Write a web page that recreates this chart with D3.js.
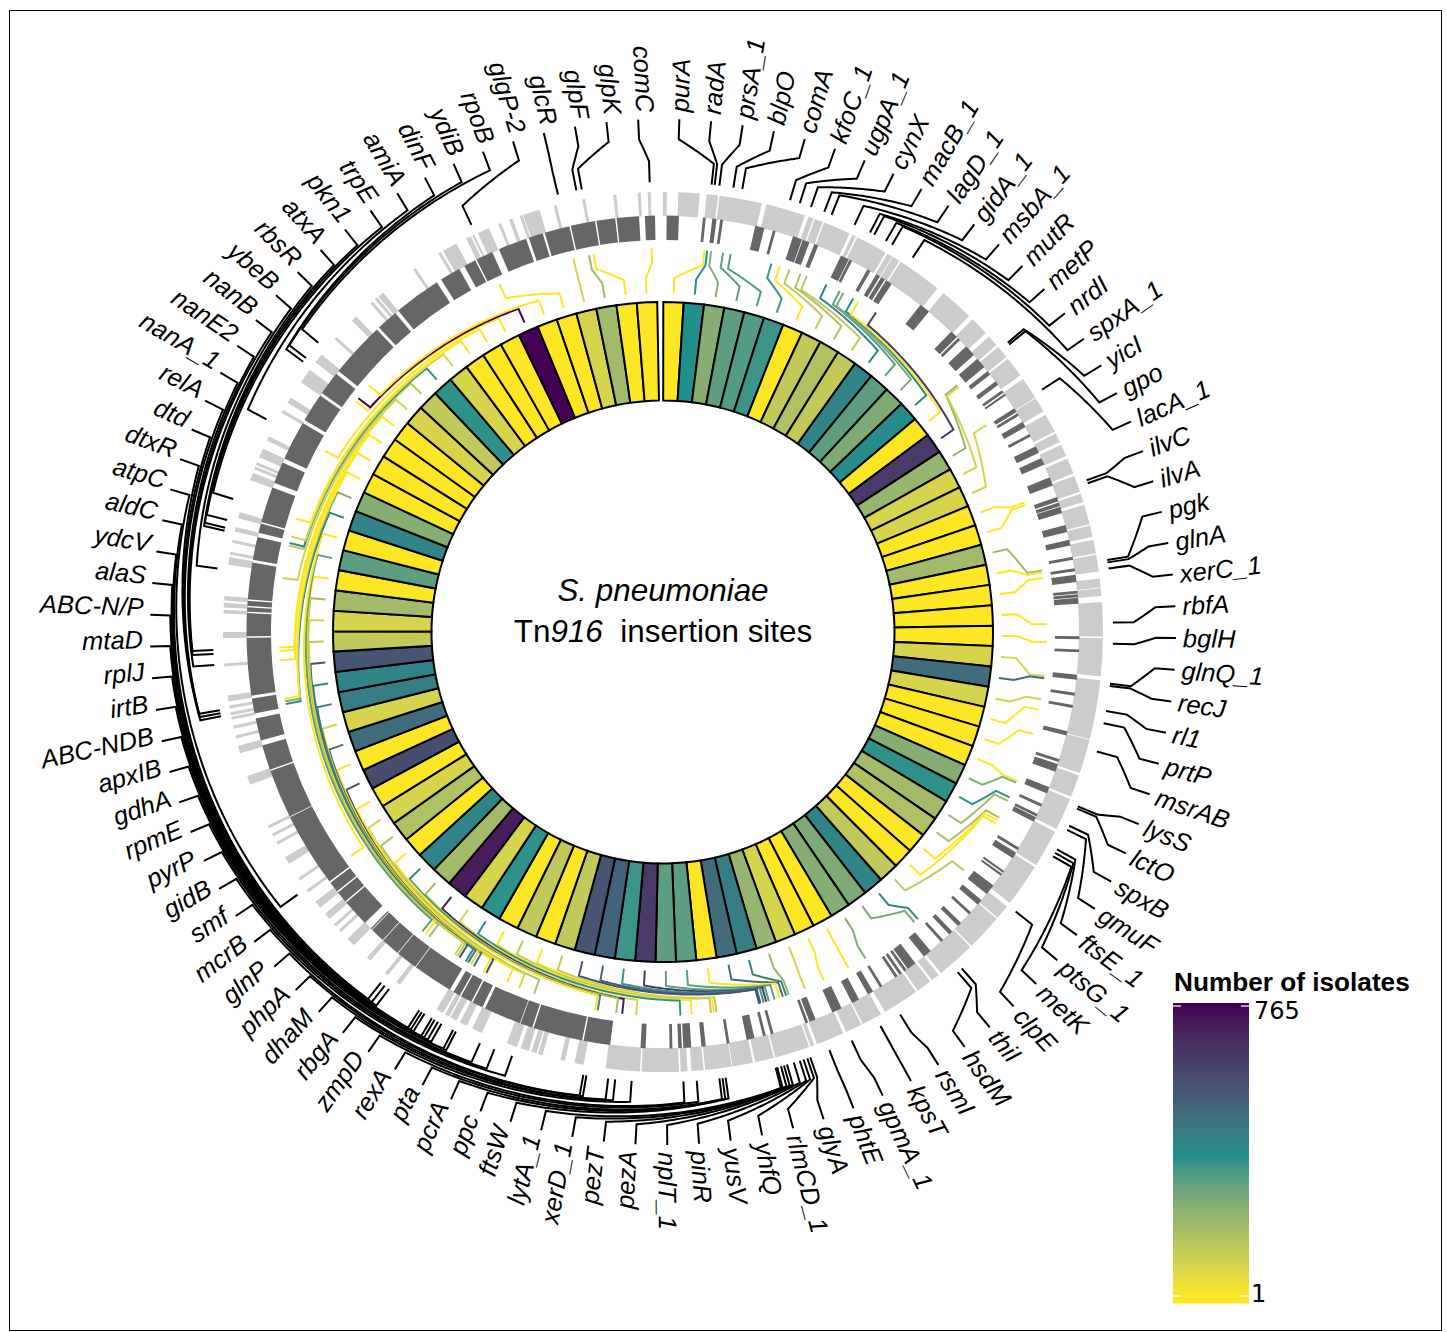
<!DOCTYPE html>
<html>
<head>
<meta charset="utf-8">
<script src="https://cdn.jsdelivr.net/npm/d3@7/dist/d3.min.js"></script>
<style>
    body { margin: 0; background: #fff; }
    text { font-family: "Liberation Sans", Arial, sans-serif; }
</style>
</head>
<body>
<div id="chart"></div>
<script>
const width = 1447;
const height = 1332;
const cx = 663;
const cy = 632;

// Insertion site genes, clockwise from the top
const geneNames = [
    "purA", "radA", "prsA_1", "blpO", "comA", "kfoC_1", "ugpA_1", "cynX", "macB_1", "lagD_1",
    "gidA_1", "msbA_1", "mutR", "metP", "nrdI", "spxA_1", "yicI", "gpo", "lacA_1", "ilvC",
    "ilvA", "pgk", "glnA", "xerC_1", "rbfA", "bglH", "glnQ_1", "recJ", "rl1", "prtP",
    "msrAB", "lysS", "lctO", "spxB", "gmuF", "ftsE_1", "ptsG_1", "metK", "clpE", "thiI",
    "hsdM", "rsmI", "kpsT", "gpmA_1", "phtE", "glyA", "rlmCD_1", "yhfQ", "yusV", "pinR",
    "nplT_1", "pezA", "pezT", "xerD_1", "lytA_1", "ftsW", "ppc", "pcrA", "pta", "rexA",
    "zmpD", "rbgA", "dhaM", "phpA", "glnP", "mcrB", "smf", "gidB", "pyrP", "rpmE",
    "gdhA", "apxIB", "ABC-NDB", "irtB", "rplJ", "mtaD", "ABC-N/P", "alaS", "ydcV", "aldC",
    "atpC", "dtxR", "dtd", "relA", "nanA_1", "nanE2", "nanB", "ybeB", "rbsR", "atxA",
    "pkn1", "trpE", "amiA", "dinF", "ydiB", "rpoB", "glgP-2", "glcR", "glpF", "glpK", "comC"
];

// Number of isolates for each gene
const isolates = [
    1, 24, 8, 14, 16, 20, 1, 3, 4, 3,
    33, 14, 9, 26, 1, 245, 6, 2, 2, 1,
    1, 5, 1, 1, 1, 1, 2, 63, 2, 1,
    1, 1, 8, 22, 5, 4, 1, 1, 3, 33,
    9, 8, 1, 1, 2, 6, 40, 63, 1, 14,
    14, 245, 20, 80, 118, 3, 1, 3, 1, 22,
    2, 490, 5, 33, 1, 4, 2, 1, 150, 1,
    63, 2, 40, 33, 118, 3, 2, 5, 1, 14,
    1, 33, 8, 1, 1, 1, 1, 2, 3, 22,
    2, 1, 1, 1, 765, 1, 1, 2, 5, 1, 1
];

// Gene location on the circular genome map (0-360 map units)
const genePos = [
    6.2, 6.6, 7.2, 9, 10.15, 16.4, 17.7, 19.2, 21, 22,
    25.2, 27.4, 28, 29.7, 30.6, 33.7, 50, 50.3, 57.4, 70.3,
    70.7, 80.8, 81.1, 81.9, 88.8, 91.5, 96.6, 96.9, 100.1, 101.7,
    105.4, 112.8, 113.1, 115.5, 116.1, 118.9, 119.4, 119.9, 128.4, 138.4,
    139.1, 148.2, 151.1, 155.2, 158.3, 160.9, 161.3, 161.8, 162.3, 163.1,
    164, 164.4, 164.8, 165.3, 165.5, 172, 172.4, 172.8, 175.7, 177.4,
    184, 186.1, 187, 189.8, 190.2, 199.6, 202, 204, 207.4, 207.8,
    209.5, 210, 210.5, 210.9, 212, 212.4, 212.8, 217.5, 218.2, 218.8,
    234.3, 259.2, 259.6, 260, 265.8, 267.2, 267.7, 278.1, 283, 283.4,
    284.4, 287.2, 298.2, 306.9, 307.5, 310, 334.8, 346.5, 348.9, 349.6, 358.3
];

// Annotated genes per strand, [start, end] in map units
const plusStrand = [
    [0, 0.5], [2, 4.8], [5.7, 7.2], [7.4, 13], [13.6, 18.8], [19.3, 20], [20.2, 21.3], [21.5, 25.1],
    [25.5, 26], [26.2, 30.4], [30.7, 31.4], [31.5, 32.5], [32.7, 38.6], [39.6, 44.1], [44.7, 47.2],
    [47.8, 49.3], [49.6, 51.3], [51.6, 54.3], [54.9, 57.8], [57.9, 59.9], [60.4, 62.9], [63.2, 64.4],
    [64.8, 66.4], [66.8, 68.9], [69.2, 71.4], [71.7, 72.8], [73.2, 75.8], [76, 77.5], [77.9, 79.7],
    [79.9, 82.1], [83, 84.2], [84.3, 85.3], [86.1, 90.6], [90.8, 95.8], [96.3, 104.1], [104.2, 108.7],
    [109, 112], [112.3, 116.6], [117, 122], [122.3, 128], [128.6, 130.5], [130.7, 135.5], [135.7, 140.8],
    [141.2, 142.3], [142.6, 144.6], [144.9, 149.7], [150.3, 153], [153.2, 155.4], [155.8, 159.5],
    [159.9, 160.4], [160.6, 165.2], [165.4, 167.9], [168.2, 170.9], [171, 174.5], [174.7, 176.3],
    [176.8, 177.7], [177.9, 182.8], [183, 187.5], [190.4, 191.6], [192.9, 193.5], [195.9, 196.5],
    [196.7, 197.4], [197.8, 198.9], [199.4, 200.8], [204.3, 205.7], [206.5, 207.5], [208, 208.9],
    [209.1, 209.7], [210, 211], [216.7, 217.3], [218.7, 219.2], [221.7, 222.3], [224.6, 225.8],
    [227, 227.4], [228, 228.4], [229.3, 230.2], [231.2, 232.2], [233.7, 234.1], [235.6, 236],
    [238.2, 239.2], [241.1, 241.5], [242.3, 242.7], [243.5, 243.9], [249.7, 250.9], [254, 255],
    [256, 256.4], [257.3, 257.7], [258.5, 258.9], [259.1, 259.5], [260, 260.4], [260.9, 261.7],
    [265.5, 265.9], [269.2, 270], [272.4, 272.9], [273.2, 273.8], [274.1, 274.7], [278.8, 279.8],
    [280.1, 280.5], [281.7, 282.1], [283.2, 283.8], [285, 285.8], [290.2, 291.2], [291.7, 292.1],
    [292.3, 292.7], [293.4, 294.6], [295.8, 296.4], [299.9, 300.3], [301.4, 302.2], [304.6, 306.6],
    [307.8, 309.1], [311.7, 312.1], [315, 315.8], [318.3, 318.7], [319.1, 319.5], [319.7, 320.5],
    [325.4, 325.8], [329.3, 329.7], [330, 332], [333.4, 334.1], [334.3, 334.6], [335.1, 336.7],
    [338, 338.4], [339.5, 340], [341, 341.4], [341.5, 343.7], [345.6, 346], [349.4, 349.8],
    [353.5, 353.9], [356.7, 357.1], [358, 358.4]
];

const minusStrand = [
    [0.5, 2.2], [5.5, 5.9], [6.8, 7.4], [7.9, 8.3], [12.8, 14.1], [15.3, 15.7], [18.2, 19.5], [19.6, 20.6],
    [21.3, 21.9], [25.3, 26.5], [26.6, 27], [29.4, 29.9], [30.8, 31.4], [31.6, 32.2], [32.4, 33.3],
    [38.2, 39.7], [43.8, 44.9], [45.1, 45.5], [46.7, 48.3], [49, 50.5], [51.2, 51.8], [53, 53.6],
    [54.5, 54.9], [55.1, 55.4], [57.5, 58.1], [58.3, 58.7], [59.7, 60.5], [61.6, 62], [63.5, 64.5],
    [65.3, 66.3], [68.2, 69.4], [71.1, 71.7], [71.9, 72.4], [72.5, 73.4], [75.1, 76.1], [77.2, 78],
    [79.6, 80], [81.2, 81.6], [82.1, 83.1], [84.3, 84.7], [84.8, 85.2], [85.3, 86.1], [90.6, 91],
    [92.4, 92.8], [95.9, 96.6], [98.4, 98.8], [100.1, 100.5], [103.8, 104.4], [107.8, 108.2],
    [108.5, 109.6], [111.9, 112.8], [114.4, 114.8], [115.9, 116.3], [116.4, 117.1], [121.2, 121.6],
    [122, 122.9], [125, 125.3], [125.5, 125.8], [127.5, 129], [130.1, 130.9], [132.3, 132.7],
    [134.3, 134.9], [136, 136.6], [137.7, 138.1], [140, 141.2], [142.7, 144], [144.2, 144.6],
    [145, 145.4], [145.7, 146.1], [148.2, 148.6], [149.7, 150.5], [151.9, 153], [154.6, 156],
    [158.5, 159.4], [159.6, 160], [164.6, 165], [165.7, 166.1], [167.3, 168.4], [170.8, 171.2],
    [174.1, 174.7], [176.1, 177.2], [177.4, 177.9], [178.7, 179.1], [182.4, 183.1], [187.3, 191],
    [191.2, 198.1], [198.3, 200], [200.1, 205.3], [205.7, 207.2], [207.4, 209], [209.2, 210.2],
    [210.8, 216.4], [216.5, 219.5], [219.6, 222.2], [222.3, 224.3], [224.4, 224.6], [225.7, 229.5],
    [229.7, 231.3], [231.5, 233], [233.2, 243.6], [243.7, 250.5], [250.7, 254.2], [254.9, 258],
    [258.7, 260.8], [261.2, 269.2], [269.4, 272.6], [272.8, 273.4], [273.6, 274.3], [274.5, 279.6],
    [280, 283.2], [283.8, 285.1], [285.3, 290.3], [291, 294], [294.6, 300.1], [300.6, 304.6],
    [305, 308.3], [308.8, 316.6], [317, 320], [320.5, 327.1], [327.8, 330.7], [331.5, 333.2],
    [333.4, 335.8], [336.8, 340.8], [341.2, 343.2], [343.5, 347], [347.2, 350.6], [350.8, 353.4],
    [353.6, 356.7], [357.5, 358.9]
];

const legendTicks = [1, 765];

// Ring radii, inside out
const heatInner = 231.5;
const heatOuter = 330;
const innerLinkRadii = [339, 354, 369, 384];
const minusRing = [392, 416.5];
const plusRing = [416, 440];
const outerLinkRadii = [450, 471, 493, 513];
const labelRadius = 520;
const flippedShift = 7.5; // left half labels sit clockwise of their line

const toRad = d3.scaleLinear().domain([0, 360]).range([0, 2 * Math.PI]);
const cellPos = d3.scaleBand().domain(geneNames).range([0.05, 359]);

// ggplot-like gradient: log values, Lab interpolation
const colorScale = d3.scaleLog()
    .domain([1, 24, 765])
    .range(["#FDE725", "#21908C", "#440154"])
    .interpolate(d3.interpolateLab);

const svg = d3.select("#chart").append("svg")
    .attr("width", width)
    .attr("height", height)
    .style("display", "block");

svg.append("rect")
    .attr("x", 9.5).attr("y", 10.5)
    .attr("width", 1432).attr("height", 1320)
    .attr("fill", "#fff")
    .attr("stroke", "#000")
    .attr("stroke-width", 1);

const g = svg.append("g").attr("transform", `translate(${cx},${cy})`);

const geneRows = geneNames.map((name, i) => ({
    name: name,
    value: isolates[i],
    pos: genePos[i],
    mid: cellPos(name) + cellPos.bandwidth() / 2
}));

// Gene tracks
function drawStrand(genes, ring, color) {
    const arc = d3.arc()
        .innerRadius(ring[0])
        .outerRadius(ring[1])
        .startAngle(d => toRad(d[0]))
        .endAngle(d => toRad(d[1]));
    g.append("g").selectAll("path")
        .data(genes)
        .enter().append("path")
        .attr("d", arc)
        .attr("fill", color);
}
drawStrand(plusStrand, plusRing, "#CCCCCC");
drawStrand(minusStrand, minusRing, "#666666");

// Connector: radial stub at one angle, polar slope, radial stub at the other
const radial = d3.lineRadial().angle(d => toRad(d[0])).radius(d => d[1]);
function linkPath(a0, a1, radii) {
    const slope = d3.range(0, 41).map(k => [
        d3.interpolateNumber(a0, a1)(k / 40),
        d3.interpolateNumber(radii[1], radii[2])(k / 40)
    ]);
    return radial([[a0, radii[0]], ...slope, [a1, radii[3]]]);
}

g.append("g").selectAll("path")
    .data(geneRows)
    .enter().append("path")
    .attr("d", d => linkPath(d.mid, d.pos, innerLinkRadii))
    .attr("fill", "none")
    .attr("stroke", d => colorScale(d.value))
    .attr("stroke-width", 2);

g.append("g").selectAll("path")
    .data(geneRows)
    .enter().append("path")
    .attr("d", d => linkPath(d.pos, d.mid, outerLinkRadii))
    .attr("fill", "none")
    .attr("stroke", "#000")
    .attr("stroke-width", 2);

// Heat ring
const cellArc = d3.arc()
    .innerRadius(heatInner)
    .outerRadius(heatOuter)
    .startAngle(d => toRad(cellPos(d.name)))
    .endAngle(d => toRad(cellPos(d.name) + cellPos.bandwidth()));

g.append("g").selectAll("path")
    .data(geneRows)
    .enter().append("path")
    .attr("d", cellArc)
    .attr("fill", d => colorScale(d.value))
    .attr("stroke", "#000")
    .attr("stroke-width", 2);

// Gene labels
g.append("g").selectAll("text")
    .data(geneRows)
    .enter().append("text")
    .attr("transform", d => {
        if (d.mid > 180) {
            return `rotate(${d.mid - 90}) translate(${labelRadius},${flippedShift}) rotate(180)`;
        }
        return `rotate(${d.mid - 90}) translate(${labelRadius},0)`;
    })
    .attr("text-anchor", d => d.mid > 180 ? "end" : "start")
    .attr("dominant-baseline", "central")
    .attr("font-size", 25.5)
    .attr("font-style", "italic")
    .text(d => d.name);

// Centre title
svg.append("text")
    .attr("x", cx).attr("y", 590)
    .attr("text-anchor", "middle")
    .attr("dominant-baseline", "central")
    .attr("font-size", 31.4)
    .attr("font-style", "italic")
    .text("S. pneumoniae");

const subtitle = svg.append("text")
    .attr("x", cx).attr("y", 631)
    .attr("text-anchor", "middle")
    .attr("dominant-baseline", "central")
    .attr("font-size", 31.4);
subtitle.append("tspan").text("Tn");
subtitle.append("tspan").attr("font-style", "italic").text("916");
subtitle.append("tspan").text("\u00a0 insertion sites");

// Colour bar
const barX = 1173;
const barW = 76;
const barTop = 1003;
const barBottom = 1302;
const legendY = d3.scaleLog().domain(legendTicks).range([1296, 1006]);
const legendLabelY = d3.scaleLog().domain(legendTicks).range([1294, 1011]);
const legendPx = d3.range(barTop, barBottom, 2);

svg.append("g").selectAll("rect")
    .data(legendPx)
    .enter().append("rect")
    .attr("x", barX)
    .attr("y", d => d)
    .attr("width", barW)
    .attr("height", 2.5)
    .attr("fill", d => {
        const v = Math.min(765, Math.max(1, legendY.invert(d + 1)));
        return colorScale(v);
    });

const legendTick = svg.append("g").selectAll("g")
    .data(legendTicks)
    .enter().append("g");

legendTick.append("line")
    .attr("x1", barX).attr("x2", barX + 8)
    .attr("y1", d => legendY(d)).attr("y2", d => legendY(d))
    .attr("stroke", "#fff").attr("stroke-width", 1.2);
legendTick.append("line")
    .attr("x1", barX + barW - 8).attr("x2", barX + barW)
    .attr("y1", d => legendY(d)).attr("y2", d => legendY(d))
    .attr("stroke", "#fff").attr("stroke-width", 1.2);
legendTick.append("text")
    .attr("x", d => d === 1 ? barX + barW + 2 : barX + barW + 5)
    .attr("y", d => legendLabelY(d))
    .attr("dominant-baseline", "central")
    .attr("font-size", 24)
    .style("font-family", "'DejaVu Sans'")
    .text(d => d);

svg.append("text")
    .attr("x", 1174).attr("y", 982)
    .attr("dominant-baseline", "central")
    .attr("font-size", 26.2)
    .attr("font-weight", "bold")
    .text("Number of isolates");
</script>
</body>
</html>
